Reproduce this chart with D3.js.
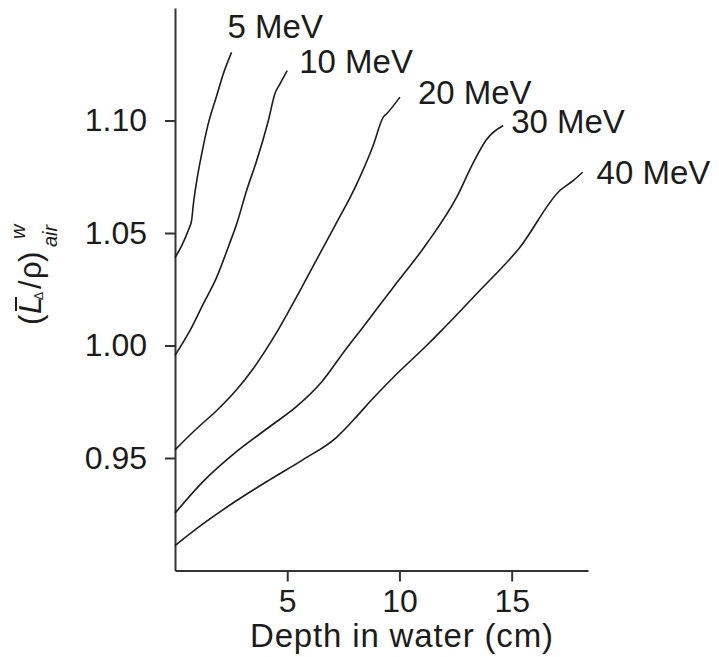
<!DOCTYPE html>
<html>
<head>
<meta charset="utf-8">
<script src="https://cdn.jsdelivr.net/npm/d3@7"></script>
<style>
  html, body { margin: 0; padding: 0; background: #fff; }
  svg { display: block; font-family: "Liberation Sans", Arial, Helvetica, sans-serif; }
</style>
</head>
<body>
<svg id="chart" width="719" height="657"></svg>
<script>
// ---- data ----
const energies = ["5 MeV", "10 MeV", "20 MeV", "30 MeV", "40 MeV"];

const depth5  = [0, 0.30, 0.59, 0.74, 0.82, 0.97, 1.19, 1.48, 1.86, 2.15, 2.52];
const ratio5  = [1.0390, 1.0444, 1.0511, 1.0556, 1.0630, 1.0733, 1.0852, 1.0985, 1.1111, 1.1207, 1.1303];

const depth10 = [0, 0.67, 1.26, 1.86, 2.37, 2.75, 3.19, 3.64, 4.16, 4.45, 4.68, 5.0];
const ratio10 = [0.9956, 1.0067, 1.0185, 1.0304, 1.0437, 1.0541, 1.0689, 1.0822, 1.1000, 1.1119, 1.1163, 1.1222];

const depth20 = [0, 0.97, 1.86, 2.75, 3.49, 4.53, 5.57, 6.31, 7.20, 8.02, 8.83, 9.28, 9.43, 10.02];
const ratio20 = [0.9536, 0.9631, 0.9711, 0.9804, 0.9898, 1.0058, 1.0244, 1.0382, 1.0546, 1.0702, 1.0889, 1.1015, 1.1030, 1.1104];

const depth30 = [0, 1.26, 2.75, 4.23, 5.42, 6.55, 7.57, 8.33, 9.72, 11.21, 12.55, 13.29, 13.88, 14.62];
const ratio30 = [0.9255, 0.9396, 0.9529, 0.9640, 0.9729, 0.9840, 0.9978, 1.0076, 1.0258, 1.0452, 1.0659, 1.0813, 1.0916, 1.0978];

const depth40 = [0, 1.26, 2.75, 4.23, 5.71, 7.20, 8.09, 8.69, 9.72, 11.21, 11.88, 13.44, 15.37, 17.15, 17.74, 18.16];
const ratio40 = [0.9111, 0.9208, 0.9311, 0.9404, 0.9493, 0.9592, 0.9684, 0.9751, 0.9858, 1.0000, 1.0067, 1.0230, 1.0437, 1.0689, 1.0733, 1.0770];

const xTicks = [5, 10, 15];
const yTicks = [0.95, 1.00, 1.05, 1.10];
const xTitle = "Depth in water (cm)";

// ---- layout ----
const svg = d3.select("#chart");
const ink = "#1c1c1c";
const x = d3.scaleLinear().domain([0, 18.4]).range([175, 588]);
const y = d3.scaleLinear().domain([0.90, 1.15]).range([570.5, 8]);

const series = [
  [depth5, ratio5], [depth10, ratio10], [depth20, ratio20], [depth30, ratio30], [depth40, ratio40]
].map((p, i) => ({ name: energies[i], pts: p[0].map((d, j) => [d, p[1][j]]) }));

// label offsets from each curve's end point (pixels)
const labelOffset = [[-4, -14], [12, 2], [18, 7], [8, 8], [14, 12]];

// axes
const xAxis = svg.append("g").attr("transform", `translate(0,${y(0.90)})`)
  .call(d3.axisBottom(x).tickValues(xTicks).tickFormat(d3.format("d")).tickSize(11).tickSizeOuter(0).tickPadding(8));
const yAxis = svg.append("g").attr("transform", `translate(${x(0)},0)`)
  .call(d3.axisLeft(y).tickValues(yTicks).tickFormat(d3.format(".2f")).tickSize(10).tickSizeOuter(0).tickPadding(18));

[xAxis, yAxis].forEach(a => {
  a.select(".domain").attr("stroke", "#333").attr("stroke-width", 2);
  a.selectAll(".tick line").attr("stroke", "#333").attr("stroke-width", 2);
  a.selectAll(".tick text").attr("fill", ink).attr("font-size", 32).attr("font-family", "Liberation Sans, Arial, sans-serif");
});

// curves
const line = d3.line().x(d => x(d[0])).y(d => y(d[1])).curve(d3.curveMonotoneX);
svg.append("g").selectAll("path").data(series).join("path")
  .attr("d", d => line(d.pts))
  .attr("fill", "none").attr("stroke", ink).attr("stroke-width", 1.6);

// curve labels
svg.append("g").selectAll("text").data(series).join("text")
  .attr("x", (d, i) => x(d.pts[d.pts.length - 1][0]) + labelOffset[i][0])
  .attr("y", (d, i) => y(d.pts[d.pts.length - 1][1]) + labelOffset[i][1])
  .attr("font-size", 33).attr("fill", ink)
  .text(d => d.name);

// x axis title
svg.append("text")
  .attr("x", 250).attr("y", 647)
  .attr("font-size", 33).attr("fill", ink)
  .attr("textLength", 303).attr("lengthAdjust", "spacing")
  .text(xTitle);

// y axis title: (L̄Δ/ρ)^w_air, rotated
const yt = svg.append("g").attr("transform", "translate(41,325) rotate(-90)");
const t = yt.append("text").attr("fill", ink).attr("font-size", 31);
t.append("tspan").attr("x", 0).attr("y", 0).text("(");
t.append("tspan").attr("x", 11).attr("y", 0).attr("font-style", "italic").text("L");
t.append("tspan").attr("x", 25).attr("y", 2).attr("font-size", 12).text("Δ");
t.append("tspan").attr("x", 36).attr("y", 0).text("/");
t.append("tspan").attr("x", 46).attr("y", 0).text("ρ");
t.append("tspan").attr("x", 63).attr("y", 0).text(")");
t.append("tspan").attr("x", 86).attr("y", -16).attr("font-size", 20).attr("font-style", "italic").text("w");
t.append("tspan").attr("x", 78).attr("y", 16).attr("font-size", 20).attr("font-style", "italic").text("air");
yt.append("line").attr("x1", 14).attr("x2", 28).attr("y1", -25).attr("y2", -25)
  .attr("stroke", ink).attr("stroke-width", 2);
</script>
</body>
</html>
